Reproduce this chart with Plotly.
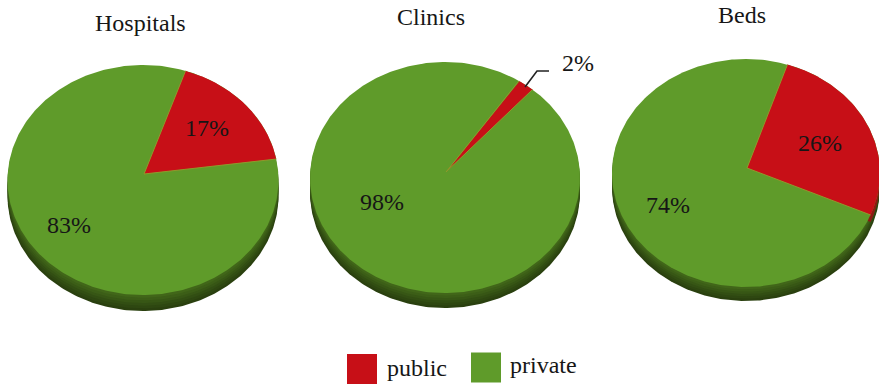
import numpy as np
import plotly.graph_objects as go

# Data
categories = ["Hospitals", "Clinics", "Beds"]
public_share = [17, 2, 26]
private_share = [83, 98, 74]
series_names = ["public", "private"]

# Styling and page geometry (pixels of the 879x385 page)
RED = "#c70f17"
GREEN = "#5f9b2a"
RIM_SHADES = ["#2a400f", "#2e4711", "#324e13", "#375615", "#3c5e17", "#416619"]
EDGE = "#8f9a2c"
TEXT = "#161616"
FONT = "Liberation Serif"

pies = {
    "Hospitals": dict(cx=143, cy=180, rx=135.5, ry=115, ax=144, ay=174, start=18.3, depth=16,
                      title=(140, 23), pub=(207, 128), pri=(69, 225)),
    "Clinics": dict(cx=445, cy=177.5, rx=135, ry=115.5, ax=446, ay=172, start=33.2, depth=15,
                    title=(431, 17), pub=(578, 63), pri=(382, 202)),
    "Beds": dict(cx=746, cy=173, rx=134, ry=114, ax=747, ay=168, start=18.0, depth=14,
                 title=(742, 15), pub=(820, 143), pri=(668, 205)),
}


def ellipse(g, dy=0):
    t = np.radians(np.linspace(0, 360, 361))
    return g["cx"] + g["rx"] * np.sin(t), g["cy"] + dy - g["ry"] * np.cos(t)


def wedge(g, share, dy=0):
    t = np.radians(np.linspace(g["start"], g["start"] + share * 3.6, 121))
    xs = g["cx"] + g["rx"] * np.sin(t)
    ys = g["cy"] + dy - g["ry"] * np.cos(t)
    return np.r_[g["ax"], xs, g["ax"]], np.r_[g["ay"] + dy, ys, g["ay"] + dy]


def area(x, y, fill):
    return go.Scatter(x=x, y=y, mode="lines", fill="toself", fillcolor=fill,
                      line=dict(color=fill, width=0),
                      hoverinfo="skip", showlegend=False)


fig = go.Figure()
notes = []


def note(x, y, text, size=24):
    notes.append(dict(x=x, y=y, text=text, xref="x", yref="y", showarrow=False,
                      xanchor="center", yanchor="middle",
                      font=dict(family=FONT, size=size, color=TEXT)))


for name, pub, pri in zip(categories, public_share, private_share):
    g = pies[name]
    n = len(RIM_SHADES)
    for i, shade in enumerate(RIM_SHADES):
        fig.add_trace(area(*ellipse(g, g["depth"] * (1 - i / n)), shade))
    fig.add_trace(area(*wedge(g, pub, g["depth"] * 0.5), "#8c1a14"))
    fig.add_trace(area(*ellipse(g), GREEN))
    wx, wy = wedge(g, pub)
    fig.add_trace(area(wx, wy, RED))
    # pale seam along the two straight sides of the slice only
    fig.add_trace(go.Scatter(x=[wx[1], wx[0], wx[-2]], y=[wy[1], wy[0], wy[-2]], mode="lines",
                             line=dict(color=EDGE, width=1),
                             hoverinfo="skip", showlegend=False))
    note(*g["title"], name)
    note(*g["pub"], f"{pub}%")
    note(*g["pri"], f"{pri}%")

# Leader line of the small Clinics slice
fig.add_trace(go.Scatter(x=[525, 537, 549], y=[87, 71, 71], mode="lines",
                         line=dict(color="#222222", width=1.6),
                         hoverinfo="skip", showlegend=False))

# Legend
fig.add_trace(go.Scatter(x=[362], y=[369], mode="markers", hoverinfo="skip", showlegend=False,
                         marker=dict(symbol="square", size=30, color=RED, line=dict(width=0))))
fig.add_trace(go.Scatter(x=[486], y=[367.5], mode="markers", hoverinfo="skip", showlegend=False,
                         marker=dict(symbol="square", size=30, color=GREEN, line=dict(width=0))))
note(417, 368, series_names[0])
note(543, 365, series_names[1])

fig.update_layout(
    width=879, height=385, margin=dict(l=0, r=0, t=0, b=0),
    paper_bgcolor="white", plot_bgcolor="white", showlegend=False,
    annotations=notes,
    xaxis=dict(range=[0, 879], visible=False, fixedrange=True),
    yaxis=dict(range=[385, 0], visible=False, fixedrange=True),
)
fig.write_html("out.html", config=dict(displayModeBar=False),
               post_script="document.body.style.margin='0';document.body.style.overflow='hidden';")
